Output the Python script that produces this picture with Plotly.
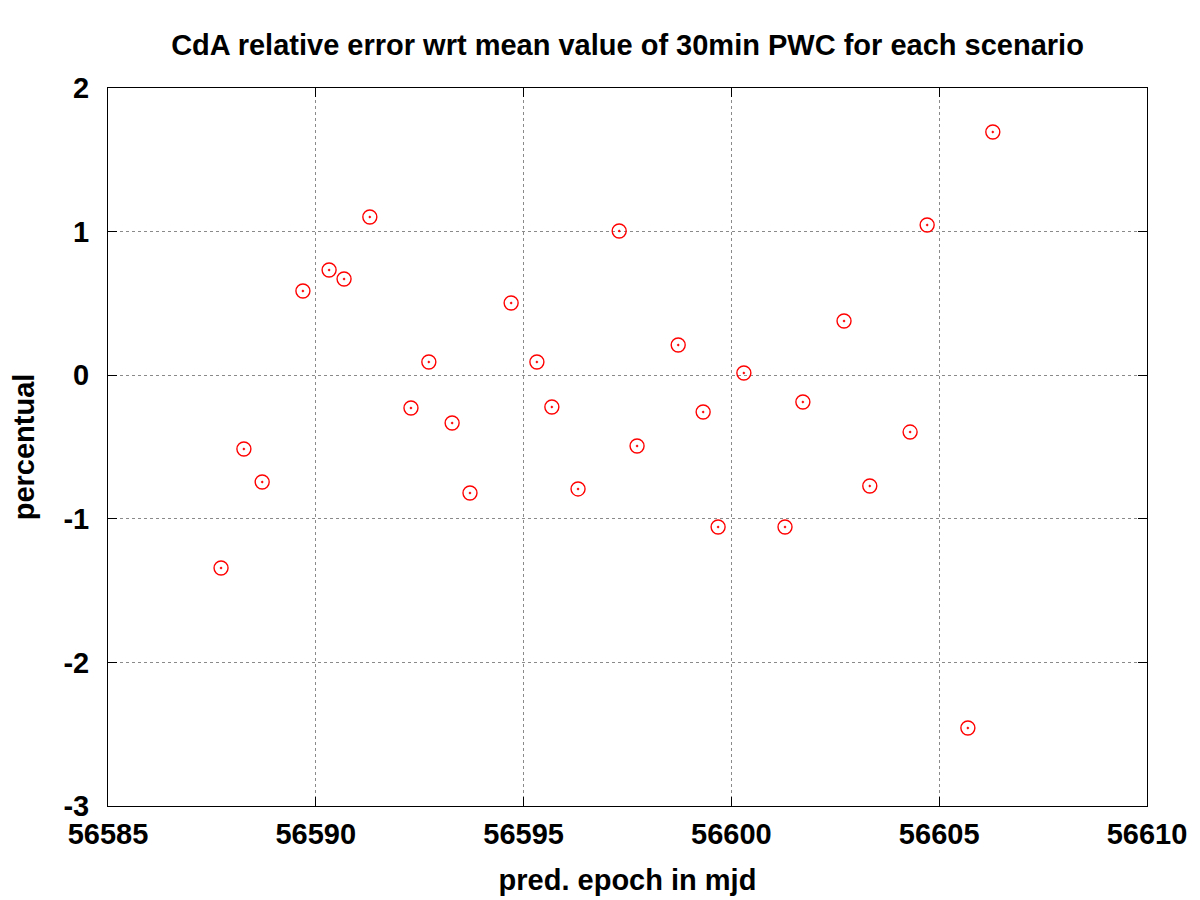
import plotly.graph_objects as go

# pred. epoch (mjd) and relative error (%)
epoch = [56587.72, 56588.27, 56588.71, 56589.69, 56590.32, 56590.68, 56591.30,
         56592.29, 56592.72, 56593.28, 56593.71, 56594.70, 56595.32, 56595.68,
         56596.31, 56597.30, 56597.73, 56598.72, 56599.32, 56599.68, 56600.30,
         56601.29, 56601.72, 56602.71, 56603.33, 56604.30, 56604.71, 56605.69,
         56606.29]
rel_err = [-1.343, -0.514, -0.744, 0.586, 0.733, 0.670, 1.102,
           -0.228, 0.092, -0.333, -0.820, 0.503, 0.092, -0.221,
           -0.792, 1.004, -0.493, 0.210, -0.256, -1.057, 0.015,
           -1.057, -0.187, 0.377, -0.772, -0.396, 1.046, -2.457,
           1.694]

x_ticks = [56585, 56590, 56595, 56600, 56605, 56610]
x_labels = ['56585', '56590', '56595', '56600', '56605', '56610']
y_ticks = [-3, -2, -1, 0, 1, 2]
y_labels = ['-3', '-2', '-1', '0', '1', '2']

font = 'Liberation Sans'
fsize = 29

fig = go.Figure()
fig.add_trace(go.Scatter(
    x=epoch, y=rel_err, mode='markers',
    marker=dict(symbol='circle-open-dot', size=14, color='red',
                line=dict(width=1.4, color='red')),
    showlegend=False,
))

axis_style = dict(
    showline=True, linecolor='black', linewidth=1, mirror='ticks',
    ticks='inside', ticklen=9, tickcolor='black', tickwidth=1,
    showgrid=True, gridcolor='#8a8a8a', griddash='dot', gridwidth=1,
    zeroline=False, automargin=False,
    tickfont=dict(family=font, size=fsize, color='black', weight='bold'),
)

fig.update_xaxes(range=[56585, 56610], tickvals=x_ticks, ticktext=x_labels,
                 ticklabelstandoff=2,
                 title=dict(text='pred. epoch in mjd', standoff=20,
                            font=dict(family=font, size=fsize, color='black', weight='bold')),
                 **axis_style)
fig.update_yaxes(range=[-3, 2], tickvals=y_ticks, ticktext=y_labels,
                 ticklabelstandoff=12,
                 title=dict(text='percentual', standoff=36,
                            font=dict(family=font, size=fsize, color='black', weight='bold')),
                 **axis_style)

fig.update_layout(
    width=1200, height=900,
    paper_bgcolor='white', plot_bgcolor='white',
    margin=dict(l=100, r=61, t=80, b=102),
    title=dict(text='CdA relative error wrt mean value of 30min PWC for each scenario',
               xref='paper', x=0.5, xanchor='center', y=0.959, yanchor='middle',
               font=dict(family=font, size=fsize, color='black', weight='bold')),
)

fig.write_html('out.html')
